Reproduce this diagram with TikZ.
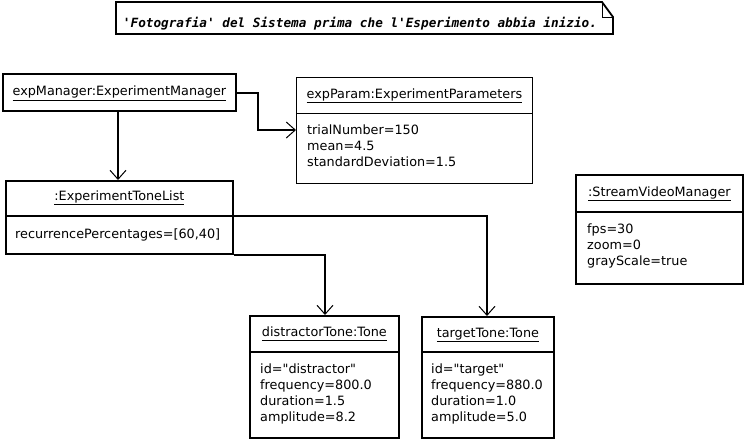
\documentclass[tikz,border=0pt]{standalone}
\usepackage{fontspec}
\setmainfont{DejaVu Sans}
\newfontfamily\notefont{DejaVu Sans Mono}
\usetikzlibrary{arrows.meta,calc,positioning}

\tikzset{
  objbox/.style={draw, line width=1.8pt, anchor=north west, inner sep=0pt},
  parbox/.style={draw, line width=0.9pt, anchor=north west, inner sep=0pt},
  objtitle/.style={inner sep=0pt, font=\fontsize{12.8}{14}\selectfont},
  attrs/.style={inner sep=0pt, anchor=north west, align=left, font=\fontsize{12.8}{16}\selectfont},
  link/.style={line width=1.8pt, -{Straight Barb[length=9pt,width=16pt,line width=1pt]}}
}
\newcommand{\objname}[1]{$\underline{\hbox{\vphantom{p}#1}}$}

\begin{document}
\begin{tikzpicture}[x=1pt,y=-1pt]
    \useasboundingbox (0,0) rectangle (744,440);

    % note
    \draw[line width=1.8pt] (116,2) -- (602,2) -- (613,17) -- (613,34) -- (116,34) -- cycle;
    \draw[line width=0.8pt] (602,2) -- (602,17) -- (613,17);
    \node[anchor=base, inner sep=0pt, font=\notefont\bfseries\itshape\fontsize{12.7}{14}\selectfont] (note) at (360,27)
        {'Fotografia' del Sistema prima che l'Esperimento abbia inizio.};

    % objects
    \node[objbox, minimum width=233pt, minimum height=37pt] (mgr) at (2,73) {};
    \node[objtitle] (mgrT) at ($(mgr.center)+(0,1)$) {\objname{expManager:ExperimentManager}};

    \node[parbox, minimum width=236pt, minimum height=106pt] (param) at (296,77) {};
    \node[objtitle] (paramT) at ($(param.north)+(0,19)$) {\objname{expParam:ExperimentParameters}};
    \draw[line width=0.9pt] (param.west |- 0,113) -- (param.east |- 0,113);
    \node[attrs] (paramA) at (307,125) {trialNumber=150\\mean=4.5\\standardDeviation=1.5};

    \node[objbox, minimum width=227pt, minimum height=73pt] (list) at (5,180) {};
    \node[objtitle] (listT) at ($(list.north)+(0,18)$) {\objname{:ExperimentToneList}};
    \draw[line width=1.8pt] (list.west |- 0,216) coordinate (listL) -- (list.east |- 0,216) coordinate (listR);
    \node[attrs] (listA) at (15,229) {recurrencePercentages=[60,40]};

    \node[objbox, minimum width=149pt, minimum height=122pt] (dis) at (249,315) {};
    \node[objtitle] (disT) at ($(dis.north)+(0,19)$) {\objname{distractorTone:Tone}};
    \draw[line width=1.8pt] (dis.west |- 0,352) -- (dis.east |- 0,352);
    \node[attrs] (disA) at (260,363.5) {id=\textquotedbl distractor\textquotedbl\\frequency=800.0\\duration=1.5\\amplitude=8.2};

    \node[objbox, minimum width=132pt, minimum height=121pt] (tgt) at (421,316) {};
    \node[objtitle] (tgtT) at ($(tgt.north)+(0,19)$) {\objname{targetTone:Tone}};
    \draw[line width=1.8pt] (tgt.west |- 0,352) -- (tgt.east |- 0,352);
    \node[attrs] (tgtA) at (431,363.5) {id=\textquotedbl target\textquotedbl\\frequency=880.0\\duration=1.0\\amplitude=5.0};

    \node[objbox, minimum width=167pt, minimum height=109pt] (svm) at (575,174) {};
    \node[objtitle] (svmT) at ($(svm.north)+(0,20)$) {\objname{:StreamVideoManager}};
    \draw[line width=1.8pt] (svm.west |- 0,212) -- (svm.east |- 0,212);
    \node[attrs] (svmA) at (587,224) {fps=30\\zoom=0\\grayScale=true};

    % links
    \draw[link] (mgr.east |- 0,93) -- (258,93) |- (param.west |- 0,130);
    \draw[link] (mgr.south -| 118,0) -- (list.north -| 118,0);
    \draw[link] (listR) -| (tgt.north -| 487,0);
    \draw[link] (list.south east) -| (dis.north -| 325,0);
\end{tikzpicture}
\end{document}
